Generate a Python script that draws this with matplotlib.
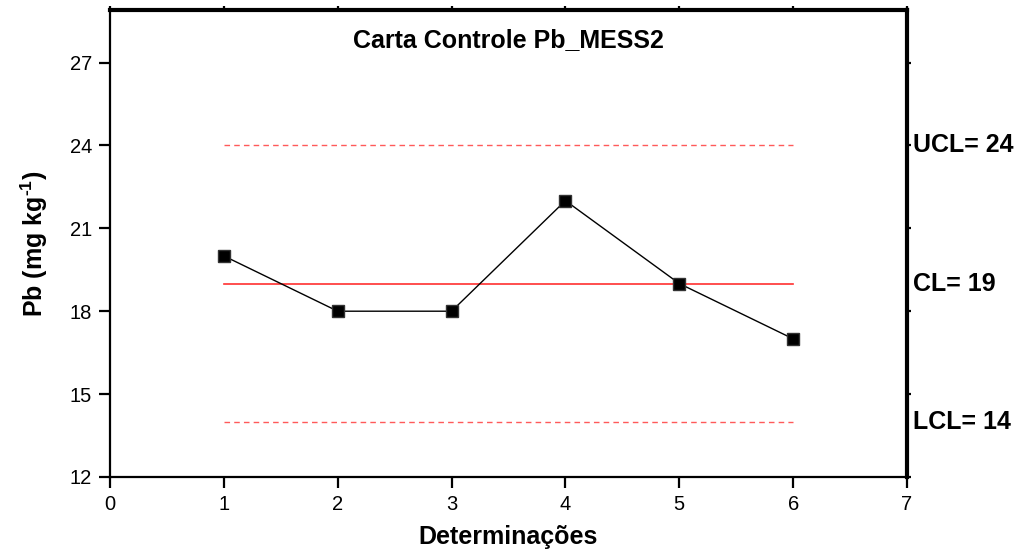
import matplotlib
matplotlib.use("Agg")
import matplotlib.pyplot as plt
import numpy as np

plt.rcParams['font.family'] = ['Liberation Sans', 'DejaVu Sans']
plt.rcParams['mathtext.fontset'] = 'custom'
plt.rcParams['mathtext.rm'] = 'Liberation Sans'
plt.rcParams['mathtext.bf'] = 'Liberation Sans:bold'

determinacoes = [1, 2, 3, 4, 5, 6]
pb_values = [20, 18, 18, 22, 19, 17]
ucl = 24
cl = 19
lcl = 14
xticks = [0, 1, 2, 3, 4, 5, 6, 7]
yticks = [12, 15, 18, 21, 24, 27]

fig = plt.figure(figsize=(10.18, 5.52), dpi=100)
ax = fig.add_axes([110/1018, 1-477/552, (907-110)/1018, (477-10)/552])

x_lim = [determinacoes[0], determinacoes[-1]]
ax.plot(x_lim, [ucl, ucl], color='#ff5a5a', lw=1.0, ls=(0, (4, 3)), zorder=1)
ax.plot(x_lim, [cl, cl], color='#ff3030', lw=1.2, zorder=1)
ax.plot(x_lim, [lcl, lcl], color='#ff5a5a', lw=1.0, ls=(0, (4, 3)), zorder=1)
ax.plot(determinacoes, pb_values, color='black', lw=1.0, marker='s', ms=9,
        mfc='black', mec='#333333', zorder=3)

ax.set_xlim(0, 7)
ax.set_ylim(12, 28.9)
ax.set_xticks(xticks)
ax.set_yticks(yticks)

for s in ['left', 'bottom']:
    ax.spines[s].set_linewidth(1.6)
for s in ['top', 'right']:
    ax.spines[s].set_linewidth(3.0)

ax.tick_params(axis='both', which='major', direction='out', length=8, width=1.6,
               labelsize=14.5, pad=5)
ax.tick_params(axis='x', pad=5)
ax.tick_params(top=True, right=True, labeltop=False, labelright=False)
for t in ax.xaxis.get_major_ticks():
    t.tick2line.set_markersize(3)
for t in ax.yaxis.get_major_ticks():
    t.tick2line.set_markersize(3)

ax.text(0.5, 0.936, 'Carta Controle Pb_MESS2', transform=ax.transAxes,
        ha='center', va='center', fontsize=18, fontweight='bold')

trans = ax.get_yaxis_transform()
for lab, val in [('UCL= %d' % ucl, ucl), ('CL= %d' % cl, cl), ('LCL= %d' % lcl, lcl)]:
    ax.text(1.008, val, lab, transform=trans, ha='left', va='center',
            fontsize=18, fontweight='bold', clip_on=False)

ax.set_xlabel('Determinações', fontsize=18, fontweight='bold', labelpad=8)
ax.set_ylabel('Pb (mg kg$^{\\mathbf{\u2010}\\mathbf{1}}$)', fontsize=18, fontweight='bold', labelpad=14)

fig.savefig('out.png', dpi=100)
